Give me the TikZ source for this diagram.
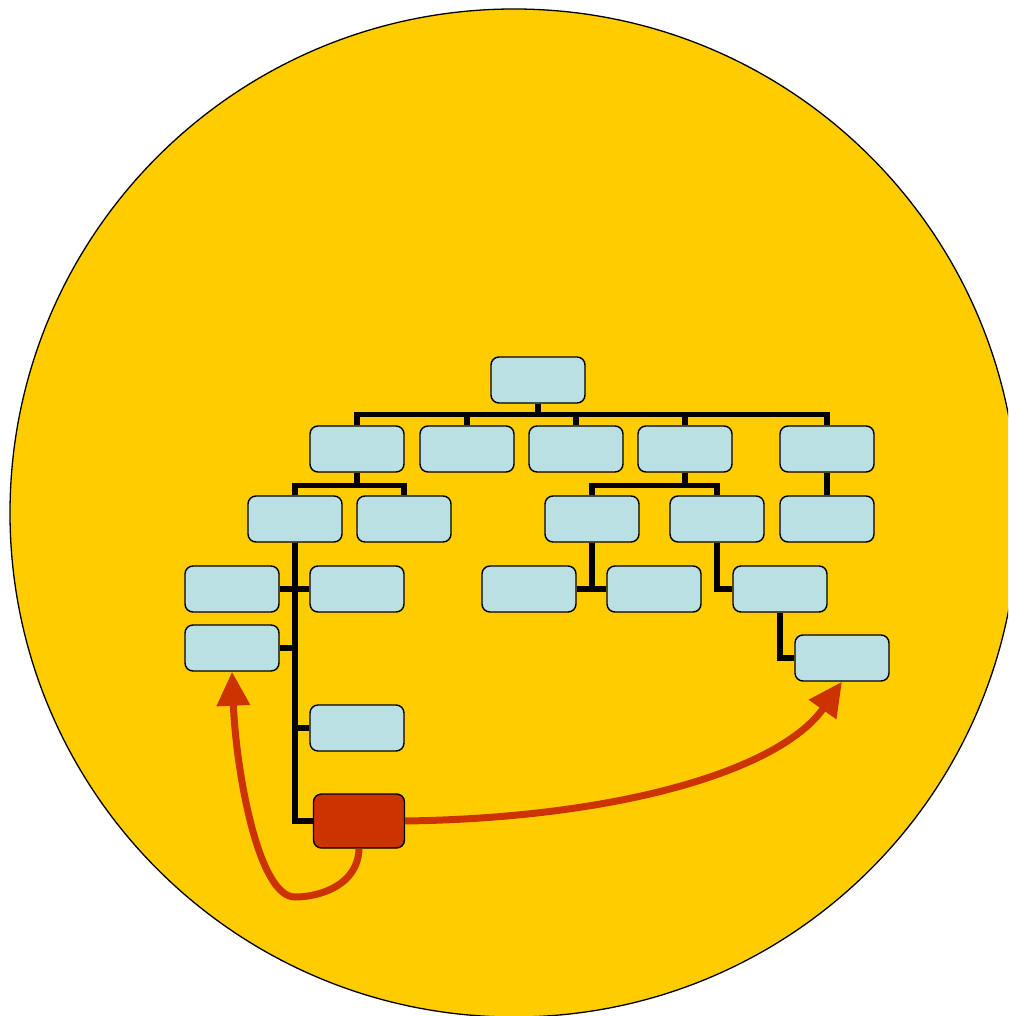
\documentclass[tikz,border=0pt]{standalone}
\usepackage[]{xcolor}
\usepackage{tikz}
\usetikzlibrary{arrows.meta}

\definecolor{sun}{HTML}{FFCC00}
\definecolor{ice}{HTML}{BBE0E3}
\definecolor{rust}{HTML}{CC3300}

\tikzset{
    box/.style={draw, line width=1.4pt, fill=ice, rounded corners=8pt,
        minimum width=94pt, minimum height=46pt, inner sep=0pt},
    hotbox/.style={box, fill=rust, minimum width=91pt, minimum height=54pt},
    tree/.style={line width=5.5pt},
    jump/.style={rust, line width=7pt,
        -{Triangle[length=34pt,width=32pt]}},
}

\begin{document}
\begin{tikzpicture}[x=1pt,y=-1pt]
    \useasboundingbox (0,0) rectangle (1008,1016);
    \clip (0,0) rectangle (1008,1016);
    \draw[fill=sun, line width=1.3pt]    (514,513) circle (504);

    % top of the chart
    \node[box] (root) at (538,380) {};
    \node[box] (a) at (357,449) {};
    \node[box] (b) at (467,449) {};
    \node[box] (c) at (576,449) {};
    \node[box] (d) at (685,449) {};
    \node[box] (e) at (827,449) {};
    % third row
    \node[box] (a1) at (295,519) {};
    \node[box] (a2) at (404,519) {};
    \node[box] (d1) at (592,519) {};
    \node[box] (d2) at (717,519) {};
    \node[box] (e1) at (827,519) {};
    % fourth row and below
    \node[box] (l1) at (232,589) {};
    \node[box] (r1) at (357,589) {};
    \node[box] (l2) at (232,648) {};
    \node[box] (r2) at (357,728) {};
    \node[hotbox] (hot) at (359,821) {};
    \node[box] (m1) at (529,589) {};
    \node[box] (m2) at (654,589) {};
    \node[box] (n1) at (780,589) {};
    \node[box] (p1) at (842,658) {};

    \foreach \c in {a,b,c,d,e}
        \draw[tree]    (root.south) -- ++(0,11) -| (\c.north);
    \foreach \c in {a1,a2}
        \draw[tree]    (a.south) -- ++(0,13) -| (\c.north);
    \foreach \c in {d1,d2}
        \draw[tree]    (d.south) -- ++(0,13) -| (\c.north);
    \draw[tree]    (e.south) -- (e1.north);
    \draw[tree]    (a1.south) |- (l1.east);
    \draw[tree]    (a1.south) |- (r1.west);
    \draw[tree]    (a1.south) |- (l2.east);
    \draw[tree]    (a1.south) |- (r2.west);
    \draw[tree]    (a1.south) |- (hot.west);
    \draw[tree]    (d1.south) |- (m1.east);
    \draw[tree]    (d1.south) |- (m2.west);
    \draw[tree]    (d2.south) |- (n1.west);
    \draw[tree]    (n1.south) |- (p1.west);

    % the moves
    \draw[jump]    (hot.east) .. controls (620,818) and (780,770) .. (p1.south);
    \draw[jump]    (hot.south) .. controls (358,885) and (320,897) .. (295,897)
        .. controls (258,897) and (236,770) .. (l2.south);
\end{tikzpicture}
\end{document}
